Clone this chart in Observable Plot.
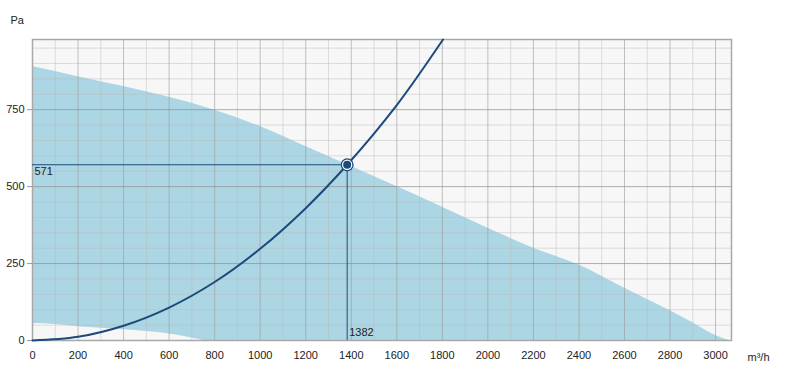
<!DOCTYPE html>
<html>
<head>
<meta charset="utf-8">
<script src="https://cdn.jsdelivr.net/npm/d3@7"></script>
<script src="https://cdn.jsdelivr.net/npm/@observablehq/plot@0.6"></script>
<style>
  html, body { margin: 0; padding: 0; background: #fff; }
</style>
</head>
<body>
<div id="chart"></div>
<script>
// Fan envelope: upper boundary (max pressure)
const fanQ = [0, 200, 400, 600, 800, 1000, 1200, 1400, 1600, 1800, 2000, 2200, 2400, 2600, 2800, 2900, 3000, 3060];
const fanP = [890, 857, 825, 790, 748, 695, 630, 565, 500, 433, 365, 300, 245, 170, 97, 58, 16, 0];
// Lower boundary of the envelope (unshaded region at bottom-left)
const lowQ = [0, 100, 200, 300, 400, 500, 600, 700, 750];
const lowP = [55, 52, 45, 40, 35, 29, 21, 8, 0];
// System curve
const sysQ = [0, 200, 400, 600, 800, 1000, 1200, 1382, 1600, 1803];
const sysP = [0, 12, 48, 107, 190, 298, 430, 571, 765, 978];
// Operating point
const opQ = [1382];
const opP = [571];
// Ticks
const xTicks = [0, 200, 400, 600, 800, 1000, 1200, 1400, 1600, 1800, 2000, 2200, 2400, 2600, 2800, 3000];
const xMinor = d3.range(100, 3100, 200);
const yTicks = [0, 250, 500, 750];
const yMinor = [50, 100, 150, 200, 300, 350, 400, 450, 550, 600, 650, 700, 800, 850, 900, 950];
const xUnit = "m³/h";
const yUnit = "Pa";

const fan = fanQ.map((q, i) => ({q, p: fanP[i]}));
const low = lowQ.map((q, i) => ({q, p: lowP[i]}));
const sys = sysQ.map((q, i) => ({q, p: sysP[i]}));
const op = opQ.map((q, i) => ({q, p: opP[i]}));

const navy = "#1b4a7c";
const bg = "#f7f7f7";

const chart = Plot.plot({
  width: 787,
  height: 391,
  marginLeft: 32,
  marginRight: 56,
  marginTop: 39,
  marginBottom: 51,
  style: {fontFamily: "'Liberation Sans', Arial, sans-serif", fontSize: "11px", color: "#222", background: "#fff"},
  x: {domain: [0, 3070]},
  y: {domain: [0, 978]},
  marks: [
    Plot.frame({fill: bg, stroke: null}),
    Plot.areaY(fan, {x: "q", y: "p", fill: "#acd6e4", curve: "monotone-x"}),
    Plot.areaY(low, {x: "q", y: "p", fill: bg, curve: "monotone-x"}),
    Plot.ruleX(xMinor, {stroke: "#b8b8b8", strokeOpacity: 0.45}),
    Plot.ruleY(yMinor, {stroke: "#b8b8b8", strokeOpacity: 0.45}),
    Plot.ruleX(xTicks.filter(d => d > 0), {stroke: "#9a9a9a", strokeOpacity: 0.6}),
    Plot.ruleY(yTicks.filter(d => d > 0), {stroke: "#8f8f8f", strokeOpacity: 0.7}),
    Plot.frame({stroke: "#a8a8a8", strokeWidth: 1.5}),
    Plot.axisX({ticks: xTicks, tickSize: 0, tickPadding: 11, tickFormat: d => String(d), label: null, fill: "#222"}),
    Plot.axisY({ticks: yTicks, tickSize: 5, tickPadding: 3, tickFormat: d => String(d), label: null, stroke: "#999", fill: "#222"}),
    Plot.ruleY(op, {y: "p", x1: 0, x2: "q", stroke: navy, strokeWidth: 1}),
    Plot.ruleX(op, {x: "q", y1: 0, y2: "p", stroke: navy, strokeWidth: 1}),
    Plot.line(sys, {x: "q", y: "p", stroke: navy, strokeWidth: 2, curve: "catmull-rom"}),
    Plot.dot(op, {x: "q", y: "p", r: 6.5, fill: navy, stroke: null}),
    Plot.dot(op, {x: "q", y: "p", r: 5.2, fill: "#fff", stroke: null}),
    Plot.dot(op, {x: "q", y: "p", r: 4, fill: navy, stroke: null}),
    Plot.text(op, {x: 0, y: "p", text: d => String(d.p), textAnchor: "start", lineAnchor: "middle", dx: 2, dy: 7, fill: "#222"}),
    Plot.text(op, {x: "q", y: 0, text: d => String(d.q), textAnchor: "start", lineAnchor: "middle", dx: 2, dy: -8, fill: "#222"}),
    Plot.text([yUnit], {frameAnchor: "top-left", text: d => d, textAnchor: "start", lineAnchor: "middle", dx: -22, dy: -19, fill: "#222"}),
    Plot.text([xUnit], {frameAnchor: "bottom-right", text: d => d, textAnchor: "start", lineAnchor: "middle", dx: 16, dy: 17, fill: "#222"})
  ]
});
document.getElementById("chart").appendChild(chart);
</script>
</body>
</html>
